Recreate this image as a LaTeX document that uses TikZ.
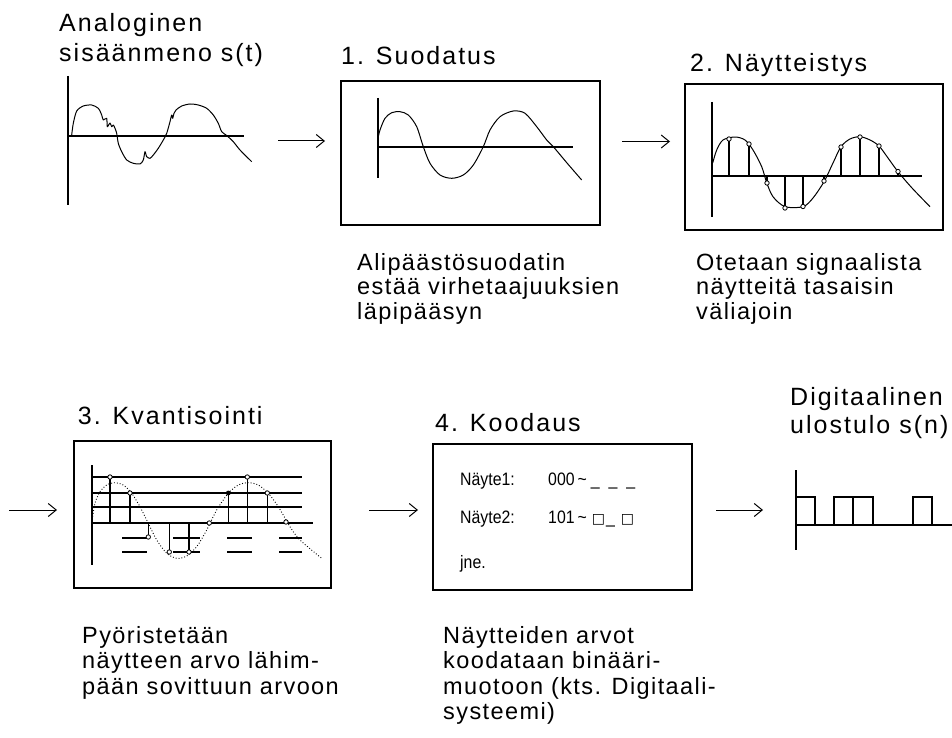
\documentclass[tikz,border=0pt]{standalone}
\usepackage{fontspec}
\setmainfont{Liberation Sans}
\newfontfamily\labelfont[LetterSpace=8]{Liberation Sans}
\newfontfamily\descfont[LetterSpace=6]{Liberation Sans}
\newfontfamily\codefont[FakeStretch=0.88]{Liberation Sans}
\newfontfamily\symfont{DejaVu Sans}
\usetikzlibrary{arrows.meta}

\newcommand{\boxglyph}{{\symfont\fontsize{14}{16}\selectfont □}}

\begin{document}
\begin{tikzpicture}[x=1pt,y=-1pt,
  title/.style={anchor=base west, inner sep=0pt, font={\labelfont\fontsize{25}{30}\selectfont}},
  desc/.style={anchor=base west, inner sep=0pt, font={\descfont\fontsize{23.5}{28}\selectfont}},
  code/.style={anchor=base west, inner sep=0pt, font={\codefont\fontsize{18}{21}\selectfont}},
  frame/.style={draw, line width=1.6pt, inner sep=0pt},
  axis/.style={line width=1.3pt},
  wave/.style={line width=1pt, line join=round},
  stem/.style={line width=1.1pt},
  sample/.style={draw, line width=0.8pt, fill=white},
  arr/.style={line width=1pt, -{Straight Barb[length=8pt,width=13pt,line width=1pt]}}]

\useasboundingbox (0,0) rectangle (952,738);
\fill[white] (0,0) rectangle (952,738);

% ---------- analog input ----------
\node[title] (inA) at (59,32) {Analoginen};
\node[title] (inB) at (59,62) {sisäänmeno s(t)};
\draw[axis] (68,76) -- (68,205);
\draw[axis] (68,136) -- (244,136);
\draw[wave] plot[smooth, tension=0.45] coordinates {
  (71.7,135) (73.3,123.3) (76.7,111) (83.3,106) (91.7,105) (98.3,108.3)
  (101.7,115) (103.3,120) (106.7,118.3) (107.3,126.7) (110,123) (111.7,126.7)
  (113.3,125) (115,128.3) (116.7,133.3) (118.3,143.3) (121.7,151.7) (126.7,160)
  (133.3,163.3) (140,164) (143.3,160) (145,151.7) (146.7,156.7) (150,158.3)
  (153.3,155) (158.3,148.3) (163.3,140) (166.7,133.3) (170,121.7) (171.7,115)
  (172.7,118.3) (174,113.3) (176,110) (181.7,106) (190,104) (198.3,105)
  (206.7,108.3) (213.3,115) (218.3,123.3) (221.7,131.7) (226.7,135.5)
  (233.3,141.7) (240,150) (251.7,161.7)};

\coordinate (a1s) at (278,141);
\coordinate (a1e) at (325,141);
\draw[arr] (a1s) -- (a1e);

% ---------- 1. filtering ----------
\node[title] (t1) at (341,65) {1. Suodatus};
\node[frame, minimum width=259pt, minimum height=144pt] (box1) at (470.5,153) {};
\draw[axis] (378,98) -- (378,178);
\draw[axis] (378,147) -- (573,147);
\draw[wave] plot[smooth, tension=0.5] coordinates {
  (378,138.3) (380,130) (385,118.3) (391.7,112.7) (400,111.7) (408.3,115)
  (416.7,126.7) (423.3,146.7) (430,163.3) (440,175) (451.7,178.3) (463.3,175)
  (473.3,165) (483.3,146.7) (490,130) (500,116.7) (513.3,111) (525,113.3)
  (536.7,126.7) (546.7,140) (553.3,146.7) (567,163) (581.7,180)};
\node[desc] (d1a) at (357,270) {Alipäästösuodatin};
\node[desc] (d1b) at (357,294.5) {estää virhetaajuuksien};
\node[desc] (d1c) at (357,319) {läpipääsyn};

\coordinate (a2s) at (622,141.5);
\coordinate (a2e) at (670,141.5);
\draw[arr] (a2s) -- (a2e);

% ---------- 2. sampling ----------
\node[title] (t2) at (690,71.7) {2. Näytteistys};
\node[frame, minimum width=258pt, minimum height=146pt] (box2) at (814,157) {};
\draw[axis] (712,102) -- (712,217);
\draw[axis] (712,176) -- (922,176);
\draw[wave] plot[smooth, tension=0.5] coordinates {
  (712.7,163) (716.7,150) (723,140) (735,137) (745,140) (753,150)
  (761.7,166.7) (766.7,182.7) (773,196.7) (785,206.7) (803,206.7) (813,198)
  (824,181.7) (833,163) (841,146.7) (850,139) (860,136.7) (870,140)
  (879,146) (888,158) (898,171.7) (912,188) (930,206.7)};
\foreach \x/\y in {729/139, 749/144, 767/183, 785/208, 803/206.5,
                   824/181, 841/147, 860/137, 879/146, 898/171.5} {
  \draw[stem] (\x,176) -- (\x,\y);
  \draw[sample] (\x,\y) circle[radius=2.2pt];
}
\node[desc] (d2a) at (696,270) {Otetaan signaalista};
\node[desc] (d2b) at (696,294.5) {näytteitä tasaisin};
\node[desc] (d2c) at (696,319) {väliajoin};

% ---------- 3. quantisation ----------
\coordinate (a3s) at (9,510);
\coordinate (a3e) at (57,510);
\draw[arr] (a3s) -- (a3e);
\node[title] (t3) at (77.7,424) {3. Kvantisointi};
\node[frame, minimum width=257pt, minimum height=147pt] (box3) at (202.5,514.5) {};
\draw[axis] (92,465) -- (92,565);
\draw[axis] (92,523) -- (313,523);
\foreach \y in {477,493,507} \draw[stem] (92,\y) -- (302,\y);
\foreach \y in {538,552} {
  \foreach \a/\b in {122/147, 173/200, 227/252, 279/302}
    \draw[stem] (\a,\y) -- (\b,\y);
}
\draw[line width=0.9pt, dotted] plot[smooth, tension=0.5] coordinates {
  (92.7,516.7) (95,503) (100,491.7) (106.7,485) (115,482.7) (123.3,485)
  (131.7,493.3) (140,506.7) (148.3,523.3) (156.7,540) (166.7,553.3)
  (176.7,558.3) (186.7,556) (196.7,546.7) (206.7,530) (216.7,510)
  (228.3,493.3) (238.3,485) (248.3,482.7) (258.3,485) (268.3,493.3)
  (278.3,506.7) (290,526.7) (300,540) (321.7,558.3)};
\foreach \x/\y in {110/477, 130/493, 148.3/537, 169.3/552, 189/552,
                   228.3/493, 247.3/477, 267.3/493}
  \draw[stem] (\x,523) -- (\x,\y);
\foreach \x/\y in {110/477, 130/493, 148.3/537, 169.3/552, 189/552,
                   209.3/523, 247.3/477, 267.3/493, 286/522}
  \draw[sample] (\x,\y) circle[radius=2.2pt];
\fill (228.3,493) circle[radius=2.4pt];
\node[desc] (d3a) at (82,643) {Pyöristetään};
\node[desc] (d3b) at (82,668.5) {näytteen arvo lähim-};
\node[desc] (d3c) at (82,694) {pään sovittuun arvoon};

% ---------- 4. coding ----------
\coordinate (a4s) at (369,510);
\coordinate (a4e) at (418,510);
\draw[arr] (a4s) -- (a4e);
\node[title] (t4) at (435,431) {4. Koodaus};
\node[frame, minimum width=259pt, minimum height=146pt] (box4) at (562.5,517) {};
\node[code] (c1a) at (460,485) {Näyte1:};
\node[code] (c1b) at (548,485) {000\hspace{3pt}\textasciitilde\hspace{4pt}\_\hspace{9pt}\_\hspace{9pt}\_};
\node[code] (c2a) at (460,523) {Näyte2:};
\node[code] (c2b) at (548,523) {101\hspace{3pt}\textasciitilde\hspace{5pt}\boxglyph\hspace{1pt}\_\hspace{6pt}\boxglyph};
\node[code] (c3) at (460,568) {jne.};
\node[desc] (d4a) at (443,643) {Näytteiden arvot};
\node[desc] (d4b) at (443,668.5) {koodataan binääri-};
\node[desc] (d4c) at (443,694) {muotoon (kts. Digitaali-};
\node[desc] (d4d) at (443,719.5) {systeemi)};

% ---------- digital output ----------
\coordinate (a5s) at (716,510);
\coordinate (a5e) at (763,510);
\draw[arr] (a5s) -- (a5e);
\node[title] (outA) at (790,405) {Digitaalinen};
\node[title] (outB) at (790,433) {ulostulo s(n)};
\draw[axis] (796,470) -- (796,550);
\draw[axis] (796,525) -- (952,525);
\draw[stem] (796,497) -- (815,497) -- (815,525);
\draw[stem] (834,525) -- (834,497) -- (873,497) -- (873,525);
\draw[stem] (853,497) -- (853,525);
\draw[stem] (913,525) -- (913,497) -- (932,497) -- (932,525);
\end{tikzpicture}
\end{document}
